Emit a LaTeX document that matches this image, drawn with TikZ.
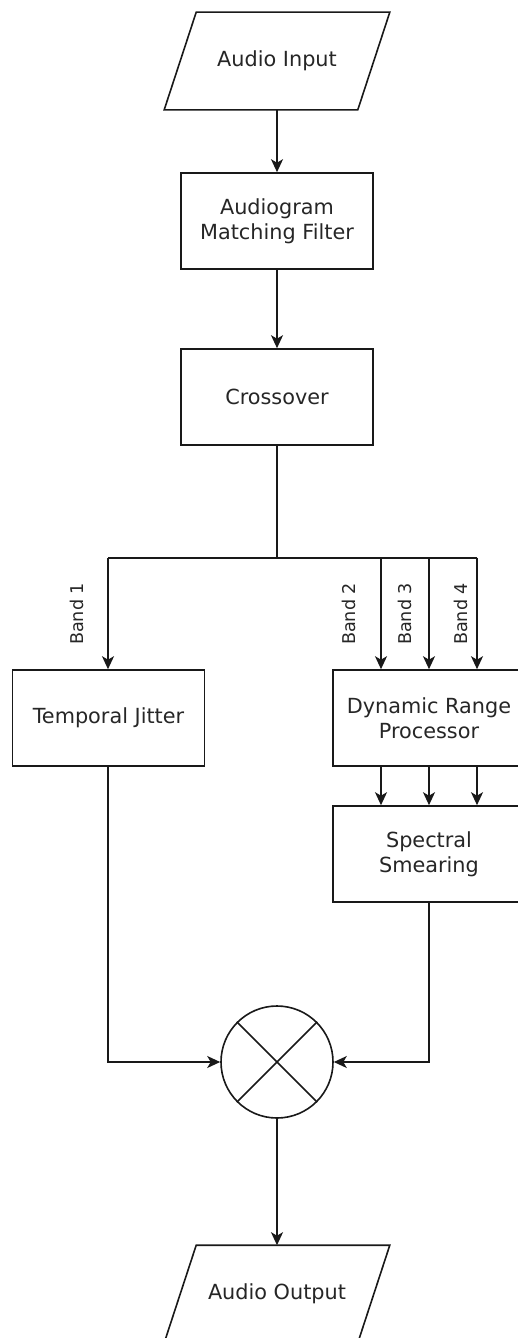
\documentclass[tikz,border=0pt]{standalone}
\usepackage{fontspec}
\setmainfont{DejaVu Sans}
\usetikzlibrary{arrows.meta,calc}
\begin{document}
\begin{tikzpicture}[x=1pt,y=-1pt,
  line width=1.6pt, color=black!90,
  txt/.style={text=black!85,font=\fontsize{20.8pt}{25pt}\selectfont,align=center},
  blockbox/.style={draw,txt,minimum width=192pt,minimum height=96pt,inner sep=0pt},
  iobox/.style={txt,minimum width=192pt,minimum height=96pt,inner sep=0pt},
  mixer/.style={draw,circle,minimum size=112pt,inner sep=0pt},
  bandlbl/.style={text=black!85,font=\fontsize{17.6pt}{20pt}\selectfont,rotate=90,inner sep=0pt},
  arr/.style={-{Stealth[length=13pt,width=12pt,inset=3.5pt]}}
]
\useasboundingbox (0,0) rectangle (518,1338);

% input / output parallelograms
\node[iobox] (in) at (277,61) {Audio Input};
\draw[line join=miter] ([xshift=16pt]in.north west) -- ([xshift=16pt]in.north east)
  -- ([xshift=-16pt]in.south east) -- ([xshift=-16pt]in.south west) -- cycle;

\node[iobox] (out) at (277,1294) {Audio Output};
\draw[line join=miter] ([xshift=16pt]out.north west) -- ([xshift=16pt]out.north east)
  -- ([xshift=-16pt]out.south east) -- ([xshift=-16pt]out.south west) -- cycle;

% blocks
\node[blockbox] (amf) at (277,221) {Audiogram\\Matching Filter};
\node[blockbox] (cross) at (277,397) {Crossover};
\node[blockbox] (tj) at (108.5,718) {Temporal Jitter};
\node[blockbox] (drp) at (429,718) {Dynamic Range\\Processor};
\node[blockbox] (ss) at (429,854) {Spectral\\Smearing};
\node[mixer] (mix) at (277,1062) {};
\draw (mix.north west) -- (mix.south east);
\draw (mix.north east) -- (mix.south west);

% split coordinates
\coordinate (j) at (277,557.7);
\coordinate (b1) at (108,557.7);
\coordinate (b2) at (381,557.7);
\coordinate (b3) at (429,557.7);
\coordinate (b4) at (477,557.7);

% connectors
\draw[arr] (in.south) -- (amf.north);
\draw[arr] (amf.south) -- (cross.north);
\draw (cross.south) -- (j);
\draw (b1) -- (b4);
\draw[arr] (b1) -- (b1 |- tj.north);
\draw[arr] (b2) -- (b2 |- drp.north);
\draw[arr] (b3) -- (b3 |- drp.north);
\draw[arr] (b4) -- (b4 |- drp.north);
\draw[arr] (b2 |- drp.south) -- (b2 |- ss.north);
\draw[arr] (b3 |- drp.south) -- (b3 |- ss.north);
\draw[arr] (b4 |- drp.south) -- (b4 |- ss.north);
\draw[arr] (b1 |- tj.south) |- (mix.west);
\draw[arr] (ss.south) |- (mix.east);
\draw[arr] (mix.south) -- (out.north);

% band labels
\node[bandlbl] (l1) at (76.5,614) {Band 1};
\node[bandlbl] (l2) at (349,614) {Band 2};
\node[bandlbl] (l3) at (405,614) {Band 3};
\node[bandlbl] (l4) at (461,614) {Band 4};
\end{tikzpicture}
\end{document}
